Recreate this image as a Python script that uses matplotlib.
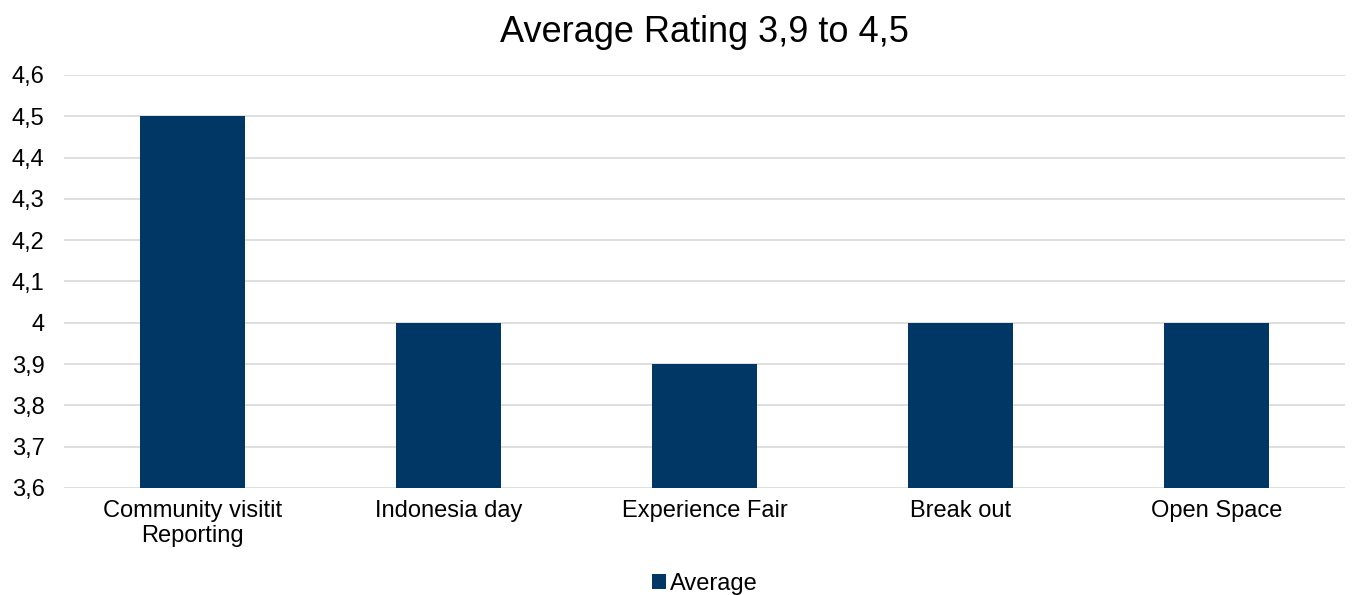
import matplotlib.pyplot as plt
from matplotlib.ticker import FuncFormatter
import numpy as np

categories = ["Community visitit\nReporting", "Indonesia day", "Experience Fair", "Break out", "Open Space"]
averages = [4.5, 4.0, 3.9, 4.0, 4.0]
yticks = [3.6, 3.7, 3.8, 3.9, 4.0, 4.1, 4.2, 4.3, 4.4, 4.5, 4.6]

plt.rcParams['font.family'] = ['Liberation Sans', 'DejaVu Sans']

fig = plt.figure(figsize=(13.62, 5.95), dpi=100)
ax = fig.add_axes([0.047, 0.180, 0.9405, 0.694])

x = np.arange(len(categories))
ax.bar(x, averages, width=0.41, color='#003764', label='Average', zorder=3)

ax.set_xlim(-0.5, len(categories) - 0.5)
ax.set_ylim(3.6, 4.6)
ax.set_yticks(yticks)


def comma_fmt(v, pos):
    s = f"{v:.1f}".rstrip('0').rstrip('.')
    return s.replace('.', ',')


ax.yaxis.set_major_formatter(FuncFormatter(comma_fmt))
ax.set_xticks(x)
ax.set_xticklabels(categories, fontsize=17, linespacing=1.15)
ax.tick_params(axis='y', labelsize=17, length=0, pad=14)
ax.tick_params(axis='x', length=0, pad=9)

ax.grid(axis='y', color='#d9d9d9', linewidth=1.2, zorder=0)
for s in ax.spines.values():
    s.set_visible(False)

ax.set_title("Average Rating 3,9 to 4,5", fontsize=26, pad=24)

ax.legend(loc='lower center', bbox_to_anchor=(0.5, -0.31), ncol=1, frameon=False,
          fontsize=17, handlelength=0.6, handleheight=0.6, handletextpad=0.15)

fig.savefig('out.png', dpi=100)
